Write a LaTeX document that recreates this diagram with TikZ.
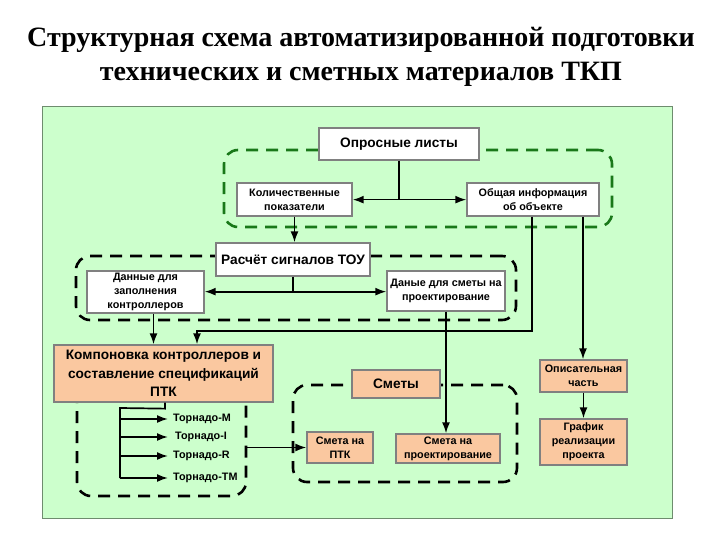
\documentclass[tikz,border=0pt]{standalone}
\usepackage{fontspec}
\setmainfont{Liberation Serif}
\setsansfont{Liberation Sans}
\usetikzlibrary{arrows.meta}
\usetikzlibrary{positioning}
\definecolor{PanelGreen}{RGB}{204,255,204}
\definecolor{PanelEdge}{RGB}{110,140,110}
\definecolor{BoxOrange}{RGB}{250,200,160}
\definecolor{BoxEdge}{RGB}{128,128,128}
\definecolor{DashGreen}{RGB}{25,120,25}
\tikzset{
  wbox/.style={rectangle, draw=BoxEdge, line width=1.3pt, fill=white, align=center,
    inner sep=0pt, font=\sffamily\bfseries\fontsize{10.8}{13.8}\selectfont},
  obox/.style={wbox, fill=BoxOrange},
  bigtext/.style={font=\sffamily\bfseries\fontsize{13.7}{18.5}\selectfont},
  grp/.style={rectangle, rounded corners=14pt, line width=2.6pt,
    dash pattern=on 12pt off 8pt, inner sep=0pt},
  tlabel/.style={font=\sffamily\bfseries\fontsize{10.8}{12}\selectfont, anchor=west, inner sep=0pt},
  arr/.style={-{Latex[length=11pt,width=8pt]}, line width=1.7pt},
  ln/.style={line width=1.7pt}
}
\begin{document}
\begin{tikzpicture}[x=1pt, y=-1pt]
  \useasboundingbox (0,0) rectangle (720,540);
  % title
  \node [font=\bfseries\fontsize{28}{34}\selectfont, align=center] (title) at (361,57)
    {Структурная схема автоматизированной подготовки\\технических и сметных материалов ТКП};
  % panel
  \draw [draw=PanelEdge, fill=PanelGreen, line width=0.8pt] (42,106) rectangle (672,518);
  %
  % dashed groups
  \node [grp, draw=DashGreen, minimum width=388pt, minimum height=77pt] (grpG) at (418,188.5) {};
  \node [grp, draw=black, minimum width=440pt, minimum height=64pt] (grpB) at (296,288) {};
  \node [grp, draw=black, minimum width=169pt, minimum height=116pt] (grpT) at (161.5,438) {};
  \node [grp, draw=black, minimum width=224pt, minimum height=97pt] (grpS) at (405,433.5) {};
  %
  % white boxes
  \node [wbox, bigtext, minimum width=160pt, minimum height=32pt] (ol) at (399,144) {Опросные листы};
  \node [wbox, minimum width=115pt, minimum height=33pt] (kol) at (294.5,199.5) {Количественные\\показатели};
  \node [wbox, minimum width=132pt, minimum height=33pt] (ob) at (533,199.5) {Общая информация\\об объекте};
  \node [wbox, bigtext, minimum width=154pt, minimum height=33pt] (rs) at (293,259.5) {Расчёт сигналов ТОУ};
  \node [wbox, minimum width=117pt, minimum height=42pt] (dz) at (145.5,292) {Данные для\\заполнения\\контроллеров};
  \node [wbox, minimum width=118pt, minimum height=40pt] (ds) at (446,291) {Даные для сметы на\\проектирование};
  %
  % orange boxes
  \node [obox, bigtext, minimum width=219pt, minimum height=57pt] (kp) at (163.5,373.5)
    {Компоновка контроллеров и\\составление спецификаций\\ПТК};
  \node [obox, bigtext, minimum width=88pt, minimum height=28pt] (sm) at (396,384) {Сметы};
  \node [obox, minimum width=66pt, minimum height=31pt] (spk) at (340,447.5) {Смета на\\ПТК};
  \node [obox, minimum width=104pt, minimum height=29pt] (spr) at (448,448.5) {Смета на\\проектирование};
  \node [obox, minimum width=87pt, minimum height=32pt] (op) at (583.5,376) {Описательная\\часть};
  \node [obox, minimum width=87pt, minimum height=46pt] (gr) at (583.5,442) {График\\реализации\\проекта};
  %
  % connectors, upper part
  \draw [ln] (ol.south) -- ++(0,39) coordinate (j1);
  \draw [arr] (j1) -- (j1 -| kol.east);
  \draw [arr] (j1) -- (j1 -| ob.west);
  \draw [arr] (kol.south) -- (kol.south |- rs.north);
  \draw [ln] (rs.south) -- ++(0,15) coordinate (j2);
  \draw [arr] (j2) -- (j2 -| dz.east);
  \draw [arr] (j2) -- (j2 -| ds.west);
  \draw [arr] ([xshift=8pt]dz.south) -- ([xshift=8pt]dz.south |- kp.north);
  \draw [arr] ([xshift=-1pt]ob.south) -- ++(0,114) -| ([xshift=33.5pt]kp.north);
  \draw [arr] ([xshift=50pt]ob.south) -- ([xshift=50pt]ob.south |- op.north);
  \draw [arr] (ds.south) -- (ds.south |- spr.north);
  \draw [arr] (op.south) -- (gr.north);
  %
  % Tornado tree
  \draw [ln] ([xshift=1.5pt]kp.south) -- ++(0,6) coordinate (t0) -- (120,408) coordinate (trunk) -- (120,478);
  \foreach \yy/\nm/\lbl/\dx in {419/tmM/Торнадо-M/0, 437/tmI/Торнадо-I/2, 456/tmR/Торнадо-R/0, 478/tmT/Торнадо-ТМ/0} {
    \node [tlabel] (\nm) at (173+\dx,\yy) {\lbl};
    \draw [arr] (trunk |- \nm.west) -- (168,\yy);
  }
  \draw [arr] (spk.west -| grpT.east) -- (spk.west);
\end{tikzpicture}
\end{document}
